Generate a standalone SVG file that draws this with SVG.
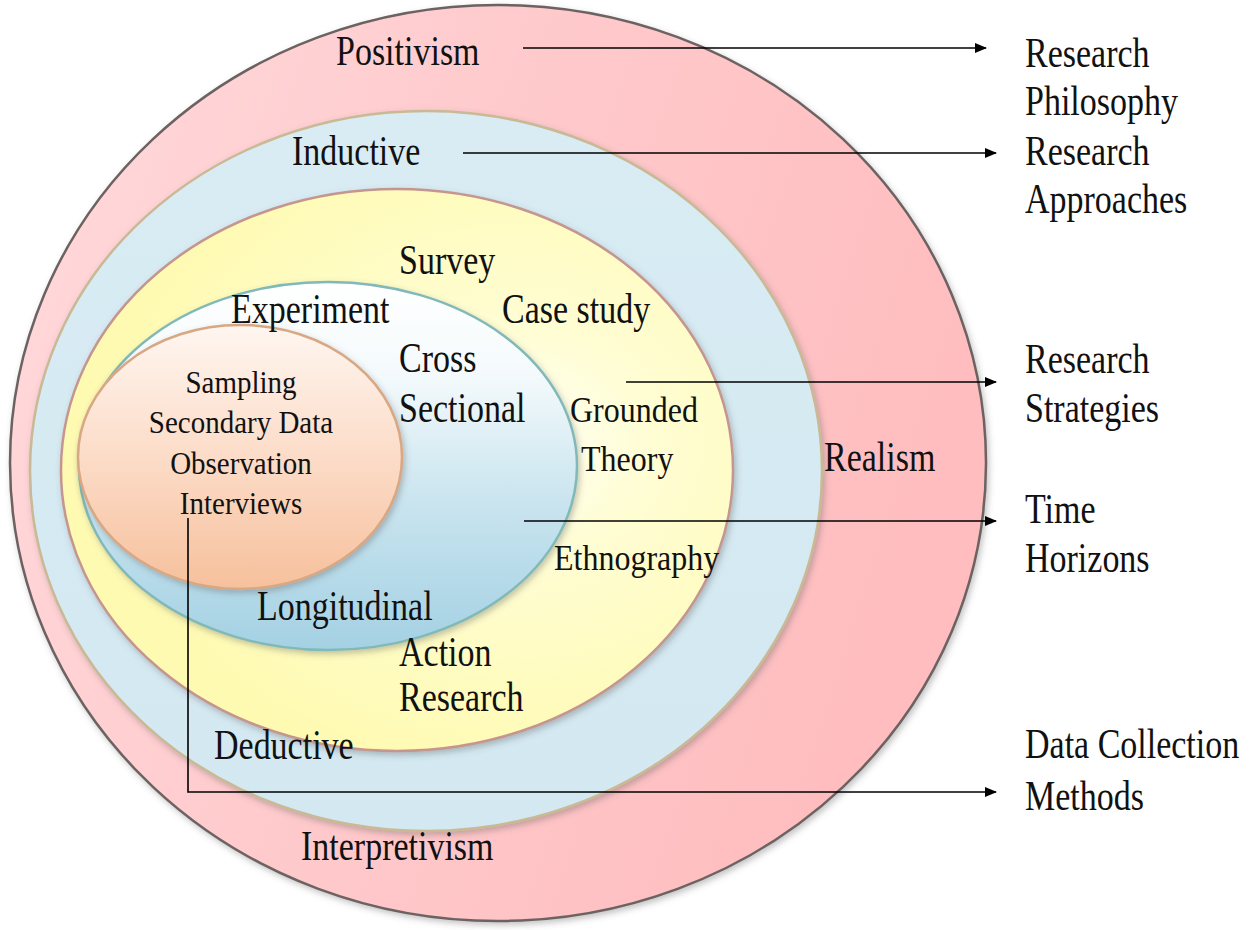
<svg xmlns="http://www.w3.org/2000/svg" width="1260" height="930" viewBox="0 0 1260 930">
<defs>
<style>
.t{font-family:"Liberation Serif","Times New Roman",serif;font-size:34px;fill:#111;}
.s{font-family:"Liberation Serif","Times New Roman",serif;font-size:32px;fill:#111;}
.m{font-family:"Liberation Serif","Times New Roman",serif;font-size:29px;fill:#111;text-anchor:middle;}
.conn{fill:none;stroke:#000;stroke-width:1.6;}
</style>
<linearGradient id="gPink" x1="0" y1="0" x2="1" y2="0.3">
<stop offset="0" stop-color="#FFDADD"/>
<stop offset="0.5" stop-color="#FFCACC"/>
<stop offset="1" stop-color="#FFBDBF"/>
</linearGradient>
<linearGradient id="gBlue" x1="0" y1="0" x2="0" y2="1">
<stop offset="0" stop-color="#D9ECF4"/>
<stop offset="1" stop-color="#D3E8F1"/>
</linearGradient>
<radialGradient id="gYellow" cx="0.68" cy="0.45" r="0.6">
<stop offset="0" stop-color="#FFFFF4"/>
<stop offset="0.35" stop-color="#FFFDD2"/>
<stop offset="1" stop-color="#FFFAB2"/>
</radialGradient>
<linearGradient id="gInner" x1="0" y1="0" x2="0" y2="1">
<stop offset="0" stop-color="#FFFFFF"/>
<stop offset="0.25" stop-color="#F4FAFC"/>
<stop offset="0.6" stop-color="#C9E4EF"/>
<stop offset="1" stop-color="#A4D1E3"/>
</linearGradient>
<linearGradient id="gOrange" x1="0" y1="0" x2="0" y2="1">
<stop offset="0" stop-color="#FFF6F0"/>
<stop offset="0.5" stop-color="#FCDCC8"/>
<stop offset="1" stop-color="#F6C09C"/>
</linearGradient>
<filter id="sh" x="-10%" y="-10%" width="120%" height="120%">
<feDropShadow dx="2" dy="3" stdDeviation="3" flood-color="#555" flood-opacity="0.35"/>
</filter>
<marker id="ah" viewBox="0 0 12 10" refX="11" refY="5" markerWidth="12" markerHeight="10" markerUnits="userSpaceOnUse" orient="auto">
<path d="M0,0 L12,5 L0,10 Z" fill="#000"/>
</marker>
</defs>
<rect width="1260" height="930" fill="#fff"/>

<g id="philosophy">
<ellipse cx="498" cy="463" rx="488" ry="458" fill="url(#gPink)" stroke="#6d6262" stroke-width="2.5" filter="url(#sh)"/>
</g>
<g id="approaches">
<ellipse cx="426" cy="471" rx="396" ry="360" fill="url(#gBlue)" stroke="#c9b995" stroke-width="2.5" filter="url(#sh)"/>
</g>
<g id="strategies">
<ellipse cx="397" cy="470" rx="336" ry="281" fill="url(#gYellow)" stroke="#c4968f" stroke-width="2.5" filter="url(#sh)"/>
</g>
<g id="time-horizons">
<ellipse cx="328" cy="466" rx="249" ry="184" fill="url(#gInner)" stroke="#80b9b8" stroke-width="2.5" filter="url(#sh)"/>
</g>
<g id="data-collection">
<ellipse cx="240" cy="457" rx="162" ry="132" fill="url(#gOrange)" stroke="#d8a884" stroke-width="2.5" filter="url(#sh)"/>
</g>

<g id="philosophy-text">
<text class="t" transform="translate(336 65) scale(1 1.24)">Positivism</text>
<text class="t" transform="translate(824 471) scale(1 1.24)">Realism</text>
<text class="t" transform="translate(301 860) scale(1 1.24)">Interpretivism</text>
</g>
<g id="approaches-text">
<text class="t" transform="translate(292 165) scale(1 1.24)">Inductive</text>
<text class="t" transform="translate(214 759) scale(1 1.24)">Deductive</text>
</g>
<g id="strategies-text">
<text class="t" transform="translate(399 274) scale(1 1.24)">Survey</text>
<text class="t" transform="translate(231 323) scale(1 1.24)">Experiment</text>
<text class="t" transform="translate(502 323) scale(1 1.24)">Case study</text>
<text class="s" transform="translate(570 422) scale(1 1.1)">Grounded</text>
<text class="s" transform="translate(581 471) scale(1 1.1)">Theory</text>
<text class="s" transform="translate(554 570) scale(1 1.1)">Ethnography</text>
<text class="t" transform="translate(399 666) scale(1 1.24)">Action</text>
<text class="t" transform="translate(399 711) scale(1 1.24)">Research</text>
</g>
<g id="time-horizons-text">
<text class="t" transform="translate(399 372) scale(1 1.24)">Cross</text>
<text class="t" transform="translate(399 422) scale(1 1.24)">Sectional</text>
<text class="t" transform="translate(257 620) scale(1 1.24)">Longitudinal</text>
</g>
<g id="data-collection-text">
<text class="m" transform="translate(241 393) scale(1 1.12)">Sampling</text>
<text class="m" transform="translate(241 433) scale(1 1.12)">Secondary Data</text>
<text class="m" transform="translate(241 474) scale(1 1.12)">Observation</text>
<text class="m" transform="translate(241 514) scale(1 1.12)">Interviews</text>
</g>

<g id="connectors">
<line class="conn" x1="523" y1="48" x2="986" y2="48" marker-end="url(#ah)"/>
<line class="conn" x1="463" y1="153" x2="996" y2="153" marker-end="url(#ah)"/>
<line class="conn" x1="626" y1="382" x2="996" y2="382" marker-end="url(#ah)"/>
<line class="conn" x1="524" y1="521" x2="996" y2="521" marker-end="url(#ah)"/>
<polyline class="conn" points="188,518 188,792 996,792" marker-end="url(#ah)"/>
</g>

<g id="labels">
<text class="t" transform="translate(1025 67) scale(1 1.24)">Research</text>
<text class="t" transform="translate(1025 115) scale(1 1.24)">Philosophy</text>
<text class="t" transform="translate(1025 165) scale(1 1.24)">Research</text>
<text class="t" transform="translate(1025 213) scale(1 1.24)">Approaches</text>
<text class="t" transform="translate(1025 373) scale(1 1.24)">Research</text>
<text class="t" transform="translate(1025 422) scale(1 1.24)">Strategies</text>
<text class="t" transform="translate(1025 523) scale(1 1.24)">Time</text>
<text class="t" transform="translate(1025 572) scale(1 1.24)">Horizons</text>
<text class="t" transform="translate(1025 758) scale(1 1.24)">Data Collection</text>
<text class="t" transform="translate(1025 810) scale(1 1.24)">Methods</text>
</g>
</svg>
